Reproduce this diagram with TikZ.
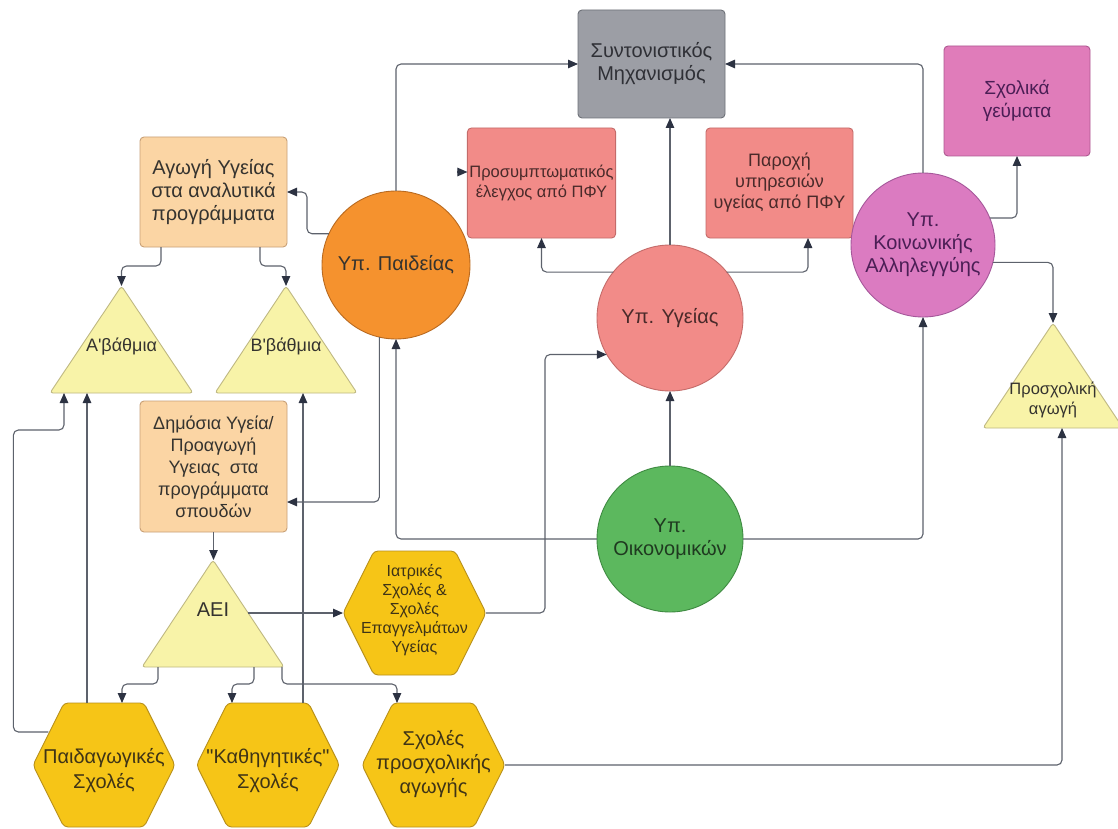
\documentclass[tikz,border=0pt]{standalone}
\usepackage{fontspec}
\setmainfont{Liberation Sans}[Ligatures=TeXOff]
\usetikzlibrary{arrows.meta,calc}
\pgfdeclarelayer{back}
\pgfdeclarelayer{bg}
\pgfsetlayers{back,bg,main}
\definecolor{syntc}{HTML}{9C9EA5}\definecolor{syntd}{HTML}{6E7178}\definecolor{synttx}{HTML}{2F3036}
\definecolor{salm}{HTML}{F28B88}\definecolor{salmd}{HTML}{C46B69}\definecolor{salmtx}{HTML}{4A2A2A}
\definecolor{paidc}{HTML}{F5922E}\definecolor{paidd}{HTML}{B96A20}
\definecolor{oikc}{HTML}{5CB85E}\definecolor{oikd}{HTML}{3E8A41}\definecolor{oiktx}{HTML}{1F3A20}
\definecolor{koinc}{HTML}{DB7BC1}\definecolor{koind}{HTML}{A5579A}\definecolor{purptx}{HTML}{4B1E55}
\definecolor{geumc}{HTML}{E07CBA}\definecolor{geumd}{HTML}{AE5991}
\definecolor{peach}{HTML}{FBD5A4}\definecolor{peachd}{HTML}{C8A077}\definecolor{darktx}{HTML}{35332F}
\definecolor{tric}{HTML}{F8F3A8}\definecolor{trid}{HTML}{BFB882}
\definecolor{hexc}{HTML}{F6C517}\definecolor{hexd}{HTML}{B8901A}\definecolor{hextx}{HTML}{3F3416}
\definecolor{linec}{HTML}{5D626C}\definecolor{tipc}{HTML}{2C3242}
\begin{document}
\begin{tikzpicture}[x=1pt,y=-1pt,
  conn/.style={draw=linec, line width=1.1pt, rounded corners=5pt},
  arr/.style={conn, -{Triangle[length=10pt,width=8.5pt,color=tipc]}},
  box/.style={rectangle, rounded corners=4pt, draw, line width=0.9pt, minimum width=147pt, minimum height=110pt, align=center, inner sep=2pt, outer sep=0pt},
  circ/.style={circle, draw, line width=0.9pt, inner sep=0pt, outer sep=0pt, align=center},
  geo/.style={rectangle, draw=none, inner sep=0pt, outer sep=0pt},
  lbl/.style={align=center, inner sep=0pt},
  tristy/.style={fill=tric, draw=trid, line width=0.9pt, rounded corners=3pt},
  hexsty/.style={fill=hexc, draw=hexd, line width=0.9pt, rounded corners=4pt},
  fbig/.style={font=\fontsize{20}{23}\selectfont},
]
\useasboundingbox (0,0) rectangle (1118,829);
\begin{pgfonlayer}{back}
\fill[white] (0,0) rectangle (1118,829);
\end{pgfonlayer}

% boxes
\node[box, fill=syntc, draw=syntd, text=synttx, fbig, minimum height=108pt] (synt) at (651.5,64) {Συντονιστικός\\Μηχανισμός};
\node[box, fill=salm, draw=salmd, text=salmtx, font=\fontsize{16.5}{20}\selectfont] (proso) at (541.5,183) {Προσυμπτωματικός\\έλεγχος από ΠΦΥ};
\node[box, fill=salm, draw=salmd, text=salmtx, font=\fontsize{18}{21}\selectfont] (paroxi) at (779.5,183) {Παροχή\\υπηρεσιών\\υγείας από ΠΦΥ};
\node[box, fill=geumc, draw=geumd, text=purptx, font=\fontsize{19}{23}\selectfont, minimum width=146pt] (geum) at (1017,101) {Σχολικά\\γεύματα};
\node[box, fill=peach, draw=peachd, text=darktx, fbig] (agogi) at (213.5,192) {Αγωγή Υγείας\\στα αναλυτικά\\προγράμματα};
\node[box, fill=peach, draw=peachd, text=darktx, font=\fontsize{18}{22}\selectfont, minimum height=131pt] (dimos) at (213.5,466.5) {Δημόσια Υγεία/\\Προαγωγή\\Υγειας~ στα\\προγράμματα\\σπουδών};

% circles
\node[circ, fill=paidc, draw=paidd, text=darktx, fbig, minimum size=148pt] (paid) at (396,265) {Υπ. Παιδείας};
\node[circ, fill=salm, draw=salmd, text=salmtx, fbig, minimum size=146pt] (yge) at (670,318) {Υπ. Υγείας};
\node[circ, fill=oikc, draw=oikd, text=oiktx, fbig, minimum size=146pt] (oik) at (670,539) {Υπ.\\Οικονομικών};
\node[circ, fill=koinc, draw=koind, text=purptx, fbig, minimum size=144pt] (koin) at (923,245) {Υπ.\\Κοινωνικής\\Αλληλεγγύης};

% triangle and hexagon frames
\node[geo, minimum width=143pt, minimum height=107pt] (abath) at (121.5,339.5) {};
\node[geo, minimum width=142pt, minimum height=107pt] (bbath) at (286,339.5) {};
\node[geo, minimum width=142pt, minimum height=107pt] (aei) at (213,613.5) {};
\node[geo, minimum width=140pt, minimum height=105pt] (prosch) at (1053,375.5) {};
\node[geo, minimum width=143pt, minimum height=124pt] (iatr) at (414.5,613) {};
\node[geo, minimum width=142pt, minimum height=124pt] (pai) at (104,765) {};
\node[geo, minimum width=143pt, minimum height=124pt] (kath) at (268,765) {};
\node[geo, minimum width=143pt, minimum height=124pt] (schp) at (433.5,765) {};

\begin{pgfonlayer}{bg}
\foreach \t in {abath,bbath,aei,prosch}{
  \path[tristy] (\t.north) -- (\t.south east) -- (\t.south west) -- cycle;}
\foreach \h in {iatr,pai,kath,schp}{
  \path[hexsty] (\h.west) -- ([xshift=31pt]\h.north west) -- ([xshift=-31pt]\h.north east) -- (\h.east) -- ([xshift=-31pt]\h.south east) -- ([xshift=31pt]\h.south west) -- cycle;}
\end{pgfonlayer}

% labels of triangles and hexagons
\node[lbl, text=darktx, font=\fontsize{18}{21}\selectfont] (abathT) at (121.5,347) {Α'βάθμια};
\node[lbl, text=darktx, font=\fontsize{18}{21}\selectfont] (bbathT) at (286,347) {Β'βάθμια};
\node[lbl, text=darktx, fbig] (aeiT) at (213,610) {ΑΕΙ};
\node[lbl, text=darktx, font=\fontsize{16.5}{20}\selectfont] (proschT) at (1053,400) {Προσχολική\\αγωγή};
\node[lbl, text=hextx, font=\fontsize{16}{19}\selectfont] (iatrT) at (414.5,610) {Ιατρικές\\Σχολές \&\\Σχολές\\Επαγγελμάτων\\Υγείας};
\node[lbl, text=hextx, font=\fontsize{20}{25}\selectfont] (paiT) at (104,771) {Παιδαγωγικές\\Σχολές};
\node[lbl, text=hextx, font=\fontsize{20}{25}\selectfont] (kathT) at (268,771) {"Καθηγητικές"\\Σχολές};
\node[lbl, text=hextx, font=\fontsize{20}{24}\selectfont] (schpT) at (433.5,764) {Σχολές\\προσχολικής\\αγωγής};

% helper coordinates
\coordinate (paiL) at ($(pai.center)+(-55.6,-33)$);
\coordinate (aeiR) at ($(aei.center |- iatr.west)+(35,0)$);
\coordinate (k1) at ($(kath.north)+(35,0)$);
\coordinate (p1) at ($(pai.north)+(-17,0)$);
\coordinate (prosoA) at ($(proso.west)+(-10,-11)$);
\coordinate (prosoB) at ($(proso.west)+(0,-11)$);

% connectors
\draw[arr] (paid.north) |- (synt.west);
\draw[arr] (koin.north) |- (synt.east);
\draw[arr] (yge.north) -- (yge.north |- synt.south);
\draw[arr] (yge.141) -| (proso.south);
\draw[arr] (yge.39) -| ([xshift=28.5pt]paroxi.south);
\draw[arr] (paid.155) -| ([xshift=20pt]agogi.east) -- (agogi.east);
\draw[arr] ([xshift=-52.5pt]agogi.south) -- ++(0,19) -| (abath.north);
\draw[arr] ([xshift=46.5pt]agogi.south) -- ++(0,19) -| (bbath.north);
\draw[arr] (paid.257.5) |- ([yshift=-35.5pt]dimos.east);
\draw[arr] (oik.west) -| (paid.south);
\draw[arr] (oik.north) -- (yge.south);
\draw[arr] (oik.east) -| (koin.south);
\draw[arr] (koin.22) -| (geum.south);
\draw[arr] (koin.-14.5) -| (prosch.north);
\draw[arr] (dimos.south) -- (dimos.south |- aei.north);
\draw[arr] (aeiR) -- (iatr.west);
\draw[arr] ([xshift=-55pt]aei.south) -- ++(0,17) -| ([xshift=18pt]pai.north);
\draw[arr] ([xshift=41pt]aei.south) -- ++(0,17) -| ([xshift=-36pt]kath.north);
\draw[arr] ([xshift=69pt]aei.south) -- ++(0,17) -| ([xshift=-36.5pt]schp.north);
\draw[arr] (p1) -- (p1 |- abath.south);
\draw[arr] (paiL) -- ++(-35,0) |- ([xshift=-57.5pt,yshift=-37pt]abath.south) -- ([xshift=-57.5pt]abath.south);
\draw[arr] (k1) -- (k1 |- bbath.south);
\draw[arr] (schp.east) -| ([xshift=9pt]prosch.south);
\draw[arr] (iatr.east) -- ++(59,0) |- (yge.210.5);
\draw[arr] (prosoA) -- (prosoB);
\end{tikzpicture}
\end{document}
